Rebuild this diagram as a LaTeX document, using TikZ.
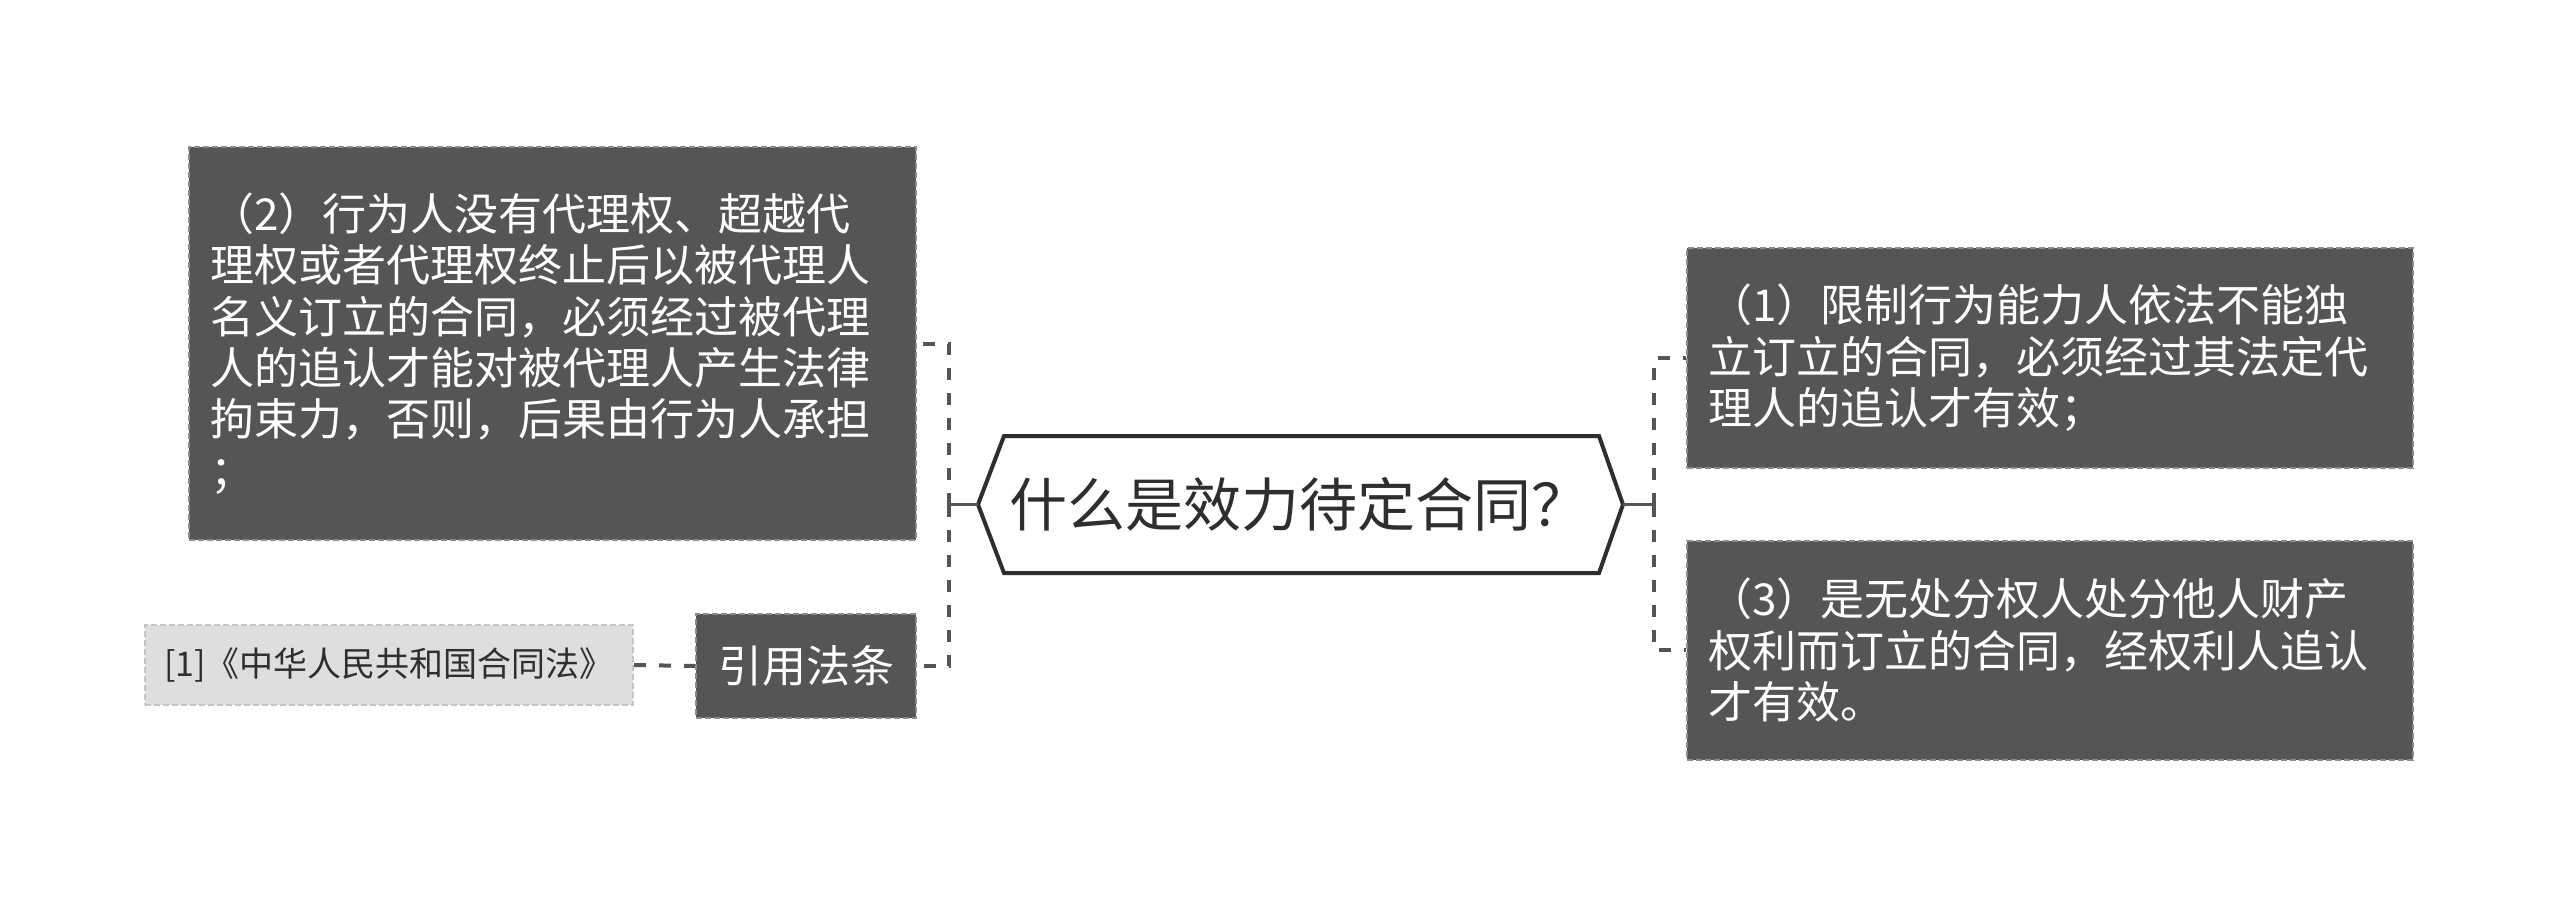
\documentclass[tikz,border=0pt]{standalone}
\usepackage{fontspec}
\newfontfamily\cjk{Noto Sans CJK SC}
\usetikzlibrary{calc}
\definecolor{boxfill}{HTML}{555555}
\definecolor{boxline}{HTML}{8C8C8C}
\definecolor{lightfill}{HTML}{DEDEDE}
\definecolor{lightline}{HTML}{C4C4C4}
\definecolor{linkc}{HTML}{555555}
\definecolor{titlec}{HTML}{2E2E2E}
\begin{document}
\begin{tikzpicture}[x=0.5pt,y=-0.5pt,
  darkbox/.style={rectangle, fill=boxfill, draw=boxline, line width=1pt,
    dash pattern=on 3pt off 1.5pt, text=white,
    font=\cjk\fontsize{22}{25.7}\selectfont, align=left,
    inner xsep=10.5pt, inner ysep=0pt},
  lightbox/.style={rectangle, fill=lightfill, draw=lightline, line width=1pt,
    dash pattern=on 3pt off 1.5pt, text=titlec,
    font=\cjk\fontsize{17}{20}\selectfont, inner sep=0pt},
  titletext/.style={text=titlec, font=\cjk\fontsize{29}{33}\selectfont, inner sep=0pt},
  hexline/.style={draw=titlec, line width=2pt, line join=miter},
  link/.style={draw=linkc, line width=2pt, dash pattern=on 6pt off 6.5pt},
  stub/.style={draw=linkc, line width=1.5pt}
]
\useasboundingbox (0,0) rectangle (2560,907);
\fill[white] (0,0) rectangle (2560,907);

% central title
\node[titletext] (title) at (1299,504.5) {什么是效力待定合同？};
\coordinate (tl) at (978,504.5);
\coordinate (tr) at (1623,504.5);
\draw[hexline] (tl) -- ++(26,-68.5) -- ++(595,0) -- (tr) -- ++(-24,68.5) -- ++(-595,0) -- cycle;

% left boxes
\node[darkbox, text width=342.5pt, minimum width=363.5pt, minimum height=196.5pt] (b2) at (552.5,343.5)
 {（2）行为人没有代理权、超越代\\理权或者代理权终止后以被代理人\\名义订立的合同，必须经过被代理\\人的追认才能对被代理人产生法律\\拘束力，否则，后果由行为人承担\\；};
\node[darkbox, inner xsep=0pt, minimum width=110pt, minimum height=52pt, align=center] (law) at (806,666) {引用法条};
\node[lightbox, minimum width=244pt, minimum height=40pt] (ref) at (389,665) {[1]《中华人民共和国合同法》};

% right boxes
\node[darkbox, text width=342pt, minimum width=363pt, minimum height=110pt] (b1) at (2050,358)
 {（1）限制行为能力人依法不能独\\立订立的合同，必须经过其法定代\\理人的追认才有效；};
\node[darkbox, text width=342pt, minimum width=363pt, minimum height=109.5pt] (b3) at (2050,650)
 {（3）是无处分权人处分他人财产\\权利而订立的合同，经权利人追认\\才有效。};

% connectors
\coordinate (jl) at (949,504.5);
\coordinate (jr) at (1654,504.5);
\draw[stub] (tl) -- (jl);
\draw[stub] (tr) -- (jr);
\draw[link] (jl) |- (b2.east);
\draw[link] (jl) |- (law.east);
\draw[link] (jr) |- (b1.west);
\draw[link] (jr) |- (b3.west);
\draw[link] (ref.east) -- (law.west);
\end{tikzpicture}
\end{document}
